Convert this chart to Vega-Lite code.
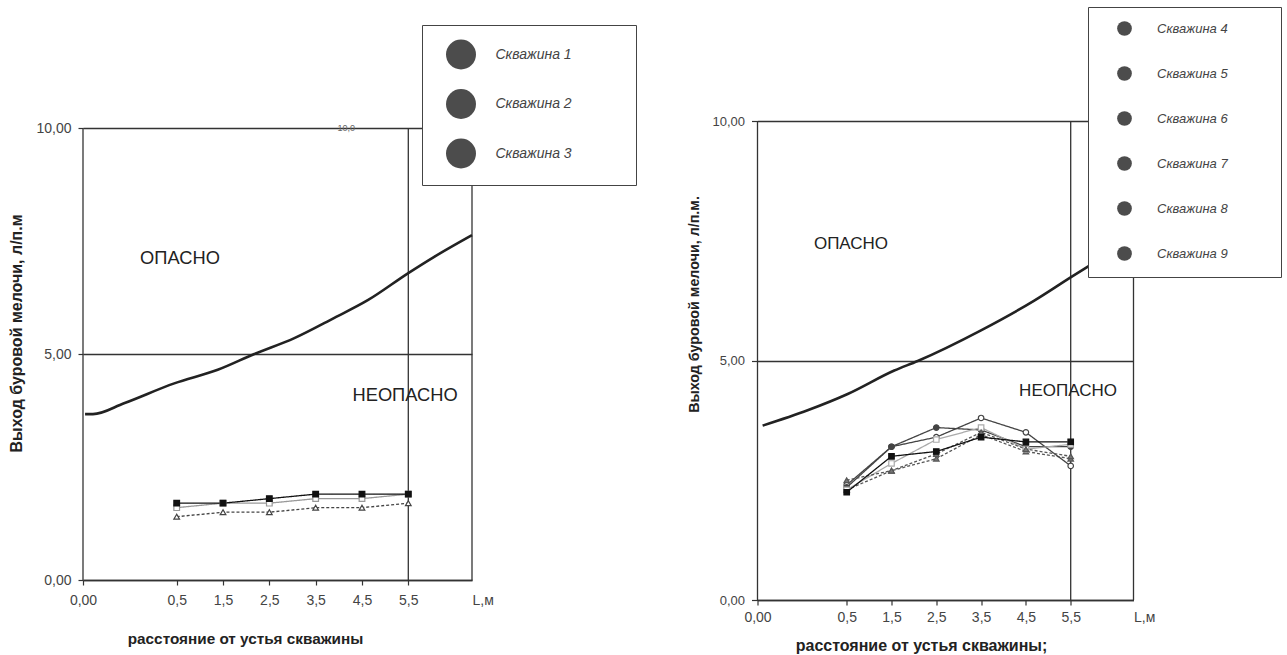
{
  "$schema": "https://vega.github.io/schema/vega-lite/v6.json",
  "autosize": {"type": "pad"},
  "padding": {"left": 8, "top": 6, "right": 5, "bottom": 5},
  "background": "white",
  "bounds": "flush",
  "spacing": 285.5,
  "resolve": {
    "scale": {"shape": "independent", "stroke": "independent", "fill": "independent", "strokeDash": "independent", "opacity": "independent"},
    "legend": {"shape": "independent", "stroke": "independent", "fill": "independent", "strokeDash": "independent", "opacity": "independent"}
  },
  "config": {
    "view": {"stroke": null},
    "font": "Liberation Sans",
    "axis": {"labelFont": "Liberation Sans", "titleFont": "Liberation Sans", "labelColor": "#444", "titleColor": "#222", "tickColor": "#333", "domainColor": "#333", "domainWidth": 1.3, "tickWidth": 1.2}
  },
  "datasets": {
    "frameL": [{"L": 0}, {"L": 5.5}, {"L": 6.876}],
    "frameR": [{"L": 0}, {"L": 5.5}, {"L": 6.897}],
    "curveL": [
      {"L": 0.011, "V": 3.67}, {"L": 0.053, "V": 3.67}, {"L": 0.219, "V": 3.91}, {"L": 0.487, "V": 4.35},
      {"L": 1.386, "V": 4.65}, {"L": 2.176, "V": 5.0}, {"L": 3.04, "V": 5.35}, {"L": 3.904, "V": 5.8},
      {"L": 4.625, "V": 6.19}, {"L": 5.5, "V": 6.79}, {"L": 6.06, "V": 7.15}, {"L": 6.876, "V": 7.63}
    ],
    "curveR": [
      {"L": 0.029, "V": 3.64}, {"L": 0.281, "V": 3.96}, {"L": 0.522, "V": 4.3}, {"L": 1.562, "V": 4.79},
      {"L": 2.085, "V": 4.99}, {"L": 3.498, "V": 5.63}, {"L": 4.687, "V": 6.25}, {"L": 5.507, "V": 6.74},
      {"L": 5.864, "V": 6.95}, {"L": 6.897, "V": 7.55}
    ],
    "wellsL": [
      {"well": "Скважина 1", "L": 0.5, "V": 1.6}, {"well": "Скважина 1", "L": 1.5, "V": 1.7}, {"well": "Скважина 1", "L": 2.5, "V": 1.7},
      {"well": "Скважина 1", "L": 3.5, "V": 1.8}, {"well": "Скважина 1", "L": 4.5, "V": 1.8}, {"well": "Скважина 1", "L": 5.5, "V": 1.9},
      {"well": "Скважина 2", "L": 0.5, "V": 1.4}, {"well": "Скважина 2", "L": 1.5, "V": 1.5}, {"well": "Скважина 2", "L": 2.5, "V": 1.5},
      {"well": "Скважина 2", "L": 3.5, "V": 1.6}, {"well": "Скважина 2", "L": 4.5, "V": 1.6}, {"well": "Скважина 2", "L": 5.5, "V": 1.7},
      {"well": "Скважина 3", "L": 0.5, "V": 1.7}, {"well": "Скважина 3", "L": 1.5, "V": 1.7}, {"well": "Скважина 3", "L": 2.5, "V": 1.8},
      {"well": "Скважина 3", "L": 3.5, "V": 1.9}, {"well": "Скважина 3", "L": 4.5, "V": 1.9}, {"well": "Скважина 3", "L": 5.5, "V": 1.9}
    ],
    "wellsR": [
      {"well": "Скважина 4", "L": 0.5, "V": 2.3}, {"well": "Скважина 4", "L": 1.5, "V": 2.7}, {"well": "Скважина 4", "L": 2.5, "V": 2.95},
      {"well": "Скважина 4", "L": 3.5, "V": 3.45}, {"well": "Скважина 4", "L": 4.5, "V": 3.1}, {"well": "Скважина 4", "L": 5.5, "V": 2.95},
      {"well": "Скважина 5", "L": 0.5, "V": 2.4}, {"well": "Скважина 5", "L": 1.5, "V": 3.2}, {"well": "Скважина 5", "L": 2.5, "V": 3.4},
      {"well": "Скважина 5", "L": 3.5, "V": 3.8}, {"well": "Скважина 5", "L": 4.5, "V": 3.5}, {"well": "Скважина 5", "L": 5.5, "V": 2.8},
      {"well": "Скважина 6", "L": 0.5, "V": 2.35}, {"well": "Скважина 6", "L": 1.5, "V": 3.2}, {"well": "Скважина 6", "L": 2.5, "V": 3.6},
      {"well": "Скважина 6", "L": 3.5, "V": 3.55}, {"well": "Скважина 6", "L": 4.5, "V": 3.2}, {"well": "Скважина 6", "L": 5.5, "V": 3.2},
      {"well": "Скважина 7", "L": 0.5, "V": 2.3}, {"well": "Скважина 7", "L": 1.5, "V": 2.85}, {"well": "Скважина 7", "L": 2.5, "V": 3.35},
      {"well": "Скважина 7", "L": 3.5, "V": 3.6}, {"well": "Скважина 7", "L": 4.5, "V": 3.15}, {"well": "Скважина 7", "L": 5.5, "V": 3.25},
      {"well": "Скважина 8", "L": 0.5, "V": 2.5}, {"well": "Скважина 8", "L": 1.5, "V": 2.7}, {"well": "Скважина 8", "L": 2.5, "V": 3.05},
      {"well": "Скважина 8", "L": 3.5, "V": 3.5}, {"well": "Скважина 8", "L": 4.5, "V": 3.15}, {"well": "Скважина 8", "L": 5.5, "V": 3.0},
      {"well": "Скважина 9", "L": 0.5, "V": 2.25}, {"well": "Скважина 9", "L": 1.5, "V": 3.0}, {"well": "Скважина 9", "L": 2.5, "V": 3.1},
      {"well": "Скважина 9", "L": 3.5, "V": 3.4}, {"well": "Скважина 9", "L": 4.5, "V": 3.3}, {"well": "Скважина 9", "L": 5.5, "V": 3.3}
    ],
    "zonesL": [{"L": 0.571, "V": 7.1, "zone": "ОПАСНО"}, {"L": 5.43, "V": 4.07, "zone": "НЕОПАСНО"}],
    "zonesR": [{"L": 0.596, "V": 7.44, "zone": "ОПАСНО"}, {"L": 5.44, "V": 4.37, "zone": "НЕОПАСНО"}],
    "noteL": [{"L": 4.16, "V": 10, "note": "10,0"}]
  },
  "hconcat": [
    {
      "width": 389,
      "height": 459,
      "layer": [
        {
          "data": {"name": "frameL"},
          "mark": {"type": "rule", "color": "#333", "strokeWidth": 1.3},
          "encoding": {
            "x": {
              "field": "L", "type": "quantitative",
              "scale": {"domain": [0, 0.5, 5.5, 6.876], "range": [0, 93.7, 325.3, 389], "nice": false, "zero": false},
              "axis": {
                "values": [0, 0.5, 1.5, 2.5, 3.5, 4.5, 5.5, 6.876],
                "labelExpr": "datum.value == 0 ? '0,00' : (datum.value > 6 ? 'L,м' : replace(format(datum.value, '.1f'), '.', ','))",
                "labelFontSize": 14, "labelPadding": 8, "labelFlush": false, "labelOverlap": false, "labelBound": false,
                "labelAlign": {"condition": {"test": "datum.value > 6", "value": "left"}, "value": "center"},
                "tickSize": 5,
                "tickColor": {"condition": {"test": "datum.value > 6", "value": "transparent"}, "value": "#333"},
                "grid": false,
                "title": "расстояние от устья скважины",
                "titleFontSize": 15.3, "titleFontWeight": "bold", "titleX": 162, "titleY": 58, "titleBaseline": "middle"
              }
            },
            "y": {
              "datum": 0, "type": "quantitative",
              "scale": {"domain": [0, 10.155], "nice": false, "zero": false},
              "axis": {
                "values": [0, 5, 10],
                "labelExpr": "replace(format(datum.value, '.2f'), '.', ',')",
                "labelFontSize": 14, "labelPadding": 7, "tickSize": 5,
                "domain": false,
                "grid": true, "gridColor": "#333", "gridWidth": 1.3, "gridOpacity": 1,
                "title": "Выход буровой мелочи, л/п.м",
                "titleFontSize": 16, "titleFontWeight": "bold", "titleX": -67, "titleY": 212, "titleBaseline": "middle"
              }
            },
            "y2": {"datum": 10}
          }
        },
        {
          "data": {"name": "curveL"},
          "mark": {"type": "line", "color": "#222", "strokeWidth": 2.6, "interpolate": "monotone"},
          "encoding": {
            "x": {"field": "L", "type": "quantitative"},
            "y": {"field": "V", "type": "quantitative"}
          }
        },
        {
          "data": {"name": "noteL"},
          "mark": {"type": "text", "fontSize": 9, "color": "#666", "baseline": "middle"},
          "encoding": {
            "x": {"field": "L", "type": "quantitative"},
            "y": {"field": "V", "type": "quantitative"},
            "text": {"field": "note"}
          }
        },
        {
          "data": {"name": "zonesL"},
          "mark": {"type": "text", "fontSize": 18.3, "color": "#222", "baseline": "middle", "align": "center"},
          "encoding": {
            "x": {"field": "L", "type": "quantitative"},
            "y": {"field": "V", "type": "quantitative"},
            "text": {"field": "zone"}
          }
        },
        {
          "data": {"name": "wellsL"},
          "mark": {"type": "line", "strokeWidth": 1.3},
          "encoding": {
            "x": {"field": "L", "type": "quantitative"},
            "y": {"field": "V", "type": "quantitative"},
            "stroke": {"field": "well", "type": "nominal", "scale": {"range": ["#999999", "#444444", "#111111"]}, "legend": null},
            "strokeDash": {"field": "well", "type": "nominal", "scale": {"range": [[1, 0], [3, 2], [1, 0]]}, "legend": null}
          }
        },
        {
          "data": {"name": "wellsL"},
          "mark": {"type": "point", "filled": true, "size": 32, "strokeWidth": 1.2},
          "encoding": {
            "x": {"field": "L", "type": "quantitative"},
            "y": {"field": "V", "type": "quantitative"},
            "stroke": {"field": "well", "type": "nominal", "legend": null},
            "fill": {"field": "well", "type": "nominal", "scale": {"range": ["white", "white", "#111111"]}, "legend": null},
            "shape": {"field": "well", "type": "nominal", "scale": {"range": ["square", "triangle-up", "square"]}, "legend": null},
            "opacity": {
              "field": "well", "type": "nominal",
              "scale": {"domain": ["Скважина 1", "Скважина 2", "Скважина 3"], "range": [1, 1, 1]},
              "legend": {
                "orient": "none", "legendX": 339, "legendY": -96, "title": null,
                "padding": 13.5, "strokeColor": "#444", "fillColor": "white",
                "labelFont": "Liberation Sans", "labelFontStyle": "italic", "labelFontSize": 14, "labelColor": "#444",
                "labelOffset": 18.5, "symbolOffset": 9.5, "symbolSize": 900, "symbolStrokeWidth": 1.3, "rowPadding": 13.5,
                "labelExpr": "datum.label + '\u00a0\u00a0\u00a0\u00a0\u00a0\u00a0\u00a0\u00a0\u00a0\u00a0\u00a0\u00a0\u00a0\u200b'",
                "encode": {
                  "symbols": {
                    "update": {
                      "shape": {"signal": "['M0,-1M0,1M-1.667,0H-0.2M0.2,0H1.667M-0.2,-0.2H0.2V0.2H-0.2Z','M0,-1M0,1M-1.667,0H1.667M0,-0.25L0.23,0.17H-0.23Z','M0,-1M0,1M-1.667,0H1.667M-0.22,-0.22H0.22V0.22H-0.22Z'][indexof(['Скважина 1','Скважина 2','Скважина 3'], datum.value)]"},
                      "stroke": {"signal": "['#999999','#444444','#111111'][indexof(['Скважина 1','Скважина 2','Скважина 3'], datum.value)]"},
                      "fill": {"signal": "['white','#444444','#111111'][indexof(['Скважина 1','Скважина 2','Скважина 3'], datum.value)]"},
                      "strokeDash": {"signal": "[[1,0],[3,2],[1,0]][indexof(['Скважина 1','Скважина 2','Скважина 3'], datum.value)]"}
                    }
                  }
                }
              }
            }
          }
        }
      ]
    },
    {
      "width": 376,
      "height": 479,
      "layer": [
        {
          "data": {"name": "frameR"},
          "mark": {"type": "rule", "color": "#333", "strokeWidth": 1.3},
          "encoding": {
            "x": {
              "field": "L", "type": "quantitative",
              "scale": {"domain": [0, 0.5, 5.5, 6.897], "range": [0, 89.2, 313.2, 376], "nice": false, "zero": false},
              "axis": {
                "values": [0, 0.5, 1.5, 2.5, 3.5, 4.5, 5.5, 6.897],
                "labelExpr": "datum.value == 0 ? '0,00' : (datum.value > 6 ? 'L,м' : replace(format(datum.value, '.1f'), '.', ','))",
                "labelFontSize": 14, "labelPadding": 5.5, "labelFlush": false, "labelOverlap": false, "labelBound": false,
                "labelAlign": {"condition": {"test": "datum.value > 6", "value": "left"}, "value": "center"},
                "tickSize": 5,
                "tickColor": {"condition": {"test": "datum.value > 6", "value": "transparent"}, "value": "#333"},
                "grid": false,
                "title": "расстояние от устья скважины;",
                "titleFontSize": 16, "titleFontWeight": "bold", "titleX": 163.5, "titleY": 45.5, "titleBaseline": "middle"
              }
            },
            "y": {
              "datum": 0, "type": "quantitative",
              "scale": {"domain": [0, 10], "nice": false, "zero": false},
              "axis": {
                "values": [0, 5, 10],
                "labelExpr": "replace(format(datum.value, '.2f'), '.', ',')",
                "labelFontSize": 13, "labelPadding": 7, "tickSize": 6,
                "domain": false,
                "grid": true, "gridColor": "#333", "gridWidth": 1.3, "gridOpacity": 1,
                "title": "Выход буровой мелочи, л/п.м.",
                "titleFontSize": 14.3, "titleFontWeight": "bold", "titleX": -63.5, "titleY": 183, "titleBaseline": "middle"
              }
            },
            "y2": {"datum": 10}
          }
        },
        {
          "data": {"name": "curveR"},
          "mark": {"type": "line", "color": "#222", "strokeWidth": 2.6, "interpolate": "monotone"},
          "encoding": {
            "x": {"field": "L", "type": "quantitative"},
            "y": {"field": "V", "type": "quantitative"}
          }
        },
        {
          "data": {"name": "zonesR"},
          "mark": {"type": "text", "fontSize": 17, "color": "#222", "baseline": "middle", "align": "center"},
          "encoding": {
            "x": {"field": "L", "type": "quantitative"},
            "y": {"field": "V", "type": "quantitative"},
            "text": {"field": "zone"}
          }
        },
        {
          "data": {"name": "wellsR"},
          "mark": {"type": "line", "strokeWidth": 1.3},
          "encoding": {
            "x": {"field": "L", "type": "quantitative"},
            "y": {"field": "V", "type": "quantitative"},
            "stroke": {"field": "well", "type": "nominal", "scale": {"range": ["#555555", "#444444", "#444444", "#aaaaaa", "#555555", "#111111"]}, "legend": null},
            "strokeDash": {"field": "well", "type": "nominal", "scale": {"range": [[3, 2], [1, 0], [1, 0], [1, 0], [3, 2], [1, 0]]}, "legend": null}
          }
        },
        {
          "data": {"name": "wellsR"},
          "mark": {"type": "point", "filled": true, "size": 30, "strokeWidth": 1.2},
          "encoding": {
            "x": {"field": "L", "type": "quantitative"},
            "y": {"field": "V", "type": "quantitative"},
            "stroke": {"field": "well", "type": "nominal", "legend": null},
            "fill": {"field": "well", "type": "nominal", "scale": {"range": ["#777777", "white", "#444444", "white", "#777777", "#111111"]}, "legend": null},
            "shape": {"field": "well", "type": "nominal", "scale": {"range": ["triangle-up", "circle", "circle", "square", "triangle-up", "square"]}, "legend": null},
            "opacity": {
              "field": "well", "type": "nominal",
              "scale": {"domain": ["Скважина 4", "Скважина 5", "Скважина 6", "Скважина 7", "Скважина 8", "Скважина 9"], "range": [1, 1, 1, 1, 1, 1]},
              "legend": {
                "orient": "none", "legendX": 330.5, "legendY": -114, "title": null,
                "padding": 13.5, "strokeColor": "#444", "fillColor": "white",
                "labelFont": "Liberation Sans", "labelFontStyle": "italic", "labelFontSize": 13, "labelColor": "#444",
                "labelOffset": 24.5, "symbolOffset": 15, "symbolSize": 216, "symbolStrokeWidth": 1.3, "rowPadding": 25,
                "labelExpr": "datum.label + '\u00a0\u00a0\u00a0\u00a0\u00a0\u00a0\u00a0\u00a0\u00a0\u00a0\u00a0\u200b'",
                "encode": {
                  "symbols": {
                    "update": {
                      "shape": {"signal": "['M0,-1M0,1M-3.06,0H3.06M0,-0.5L0.46,0.35H-0.46Z','M0,-1M0,1M-3.06,0H-0.4M0.4,0H3.06M0.4,0A0.4,0.4 0 1,1 -0.4,0A0.4,0.4 0 1,1 0.4,0Z','M0,-1M0,1M-3.06,0H3.06M0.42,0A0.42,0.42 0 1,1 -0.42,0A0.42,0.42 0 1,1 0.42,0Z','M0,-1M0,1M-3.06,0H-0.4M0.4,0H3.06M-0.4,-0.4H0.4V0.4H-0.4Z','M0,-1M0,1M-3.06,0H3.06M0,-0.5L0.46,0.35H-0.46Z','M0,-1M0,1M-3.06,0H3.06M-0.45,-0.45H0.45V0.45H-0.45Z'][indexof(['Скважина 4','Скважина 5','Скважина 6','Скважина 7','Скважина 8','Скважина 9'], datum.value)]"},
                      "stroke": {"signal": "['#555555','#444444','#444444','#aaaaaa','#555555','#111111'][indexof(['Скважина 4','Скважина 5','Скважина 6','Скважина 7','Скважина 8','Скважина 9'], datum.value)]"},
                      "fill": {"signal": "['#555555','white','#444444','white','#555555','#111111'][indexof(['Скважина 4','Скважина 5','Скважина 6','Скважина 7','Скважина 8','Скважина 9'], datum.value)]"},
                      "strokeDash": {"signal": "[[3,2],[1,0],[1,0],[1,0],[3,2],[1,0]][indexof(['Скважина 4','Скважина 5','Скважина 6','Скважина 7','Скважина 8','Скважина 9'], datum.value)]"}
                    }
                  }
                }
              }
            }
          }
        }
      ]
    }
  ]
}
